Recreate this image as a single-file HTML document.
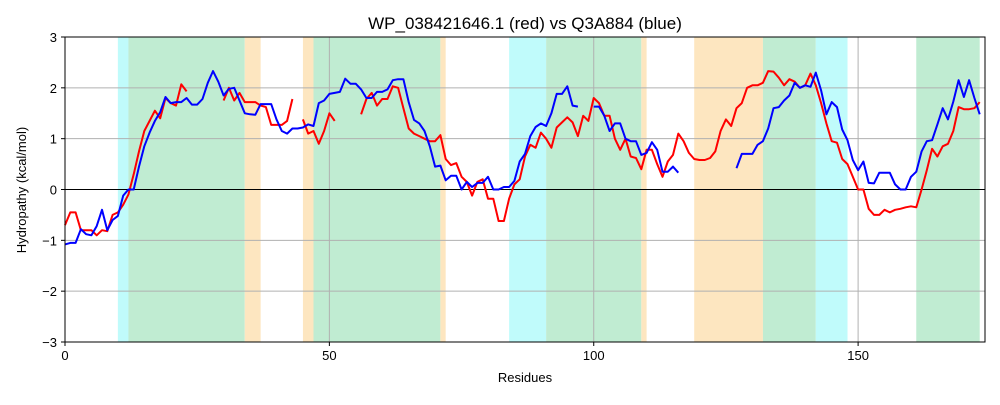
<!DOCTYPE html>
<html><head><meta charset="utf-8"><style>
body{margin:0;background:#fff;font-family:"Liberation Sans",sans-serif}
svg text{font-family:"Liberation Sans",sans-serif}
</style></head><body>
<svg id="chart" width="1000" height="400" xmlns="http://www.w3.org/2000/svg">
<text x="525" y="29" text-anchor="middle" font-size="17">WP_038421646.1 (red) vs Q3A884 (blue)</text>
<text x="525" y="382" text-anchor="middle" font-size="13">Residues</text>
<text transform="translate(26,190) rotate(-90)" text-anchor="middle" font-size="13">Hydropathy (kcal/mol)</text>
<g id="regions"></g><g id="grid"></g><g id="lines"></g><g id="axes"></g>
</svg>
<script>
const regionStarts=[10,12,34,45,47,71,84,91,109,119,132,142,161];
const regionEnds=[12,34,37,47,71,72,91,109,110,132,142,148,173];
const regionKinds=['cyan','green','orange','orange','green','orange','cyan','green','orange','orange','green','cyan','green'];
const xTicks=[0,50,100,150];
const yTicks=[-3,-2,-1,0,1,2,3];
const N=null;
const redValues=[-0.7,-0.45,-0.45,-0.8,-0.8,-0.8,-0.9,-0.8,-0.82,-0.5,-0.45,-0.3,-0.1,0.3,0.75,1.15,1.35,1.55,1.4,1.8,1.7,1.65,2.07,1.93,N,N,N,N,N,N,1.75,2.0,1.75,1.9,1.72,1.72,1.72,1.65,1.62,1.27,1.27,1.27,1.35,1.78,N,1.38,1.1,1.15,0.9,1.15,1.5,1.35,N,N,N,N,1.48,1.78,1.9,1.65,1.78,1.78,2.03,2.0,1.6,1.2,1.1,1.05,1.0,0.95,0.95,1.07,0.6,0.48,0.52,0.25,0.15,-0.12,0.15,0.2,-0.18,-0.18,-0.62,-0.62,-0.18,0.1,0.2,0.65,0.88,0.82,1.12,1.0,0.82,1.22,1.32,1.42,1.32,1.05,1.45,1.35,1.8,1.7,1.45,1.45,1.0,0.78,1.0,0.65,0.62,0.4,0.78,0.78,0.5,0.25,0.55,0.68,1.1,0.95,0.72,0.6,0.58,0.58,0.62,0.75,1.15,1.38,1.25,1.6,1.7,2.0,2.05,2.05,2.1,2.33,2.32,2.2,2.05,2.17,2.12,2.0,2.05,2.28,2.05,1.7,1.3,0.95,0.92,0.6,0.5,0.25,0.0,0.0,-0.38,-0.5,-0.5,-0.4,-0.45,-0.4,-0.38,-0.35,-0.33,-0.35,0.0,0.38,0.8,0.65,0.85,0.9,1.15,1.62,1.58,1.58,1.6,1.72];
const blueValues=[-1.08,-1.05,-1.05,-0.78,-0.88,-0.9,-0.72,-0.4,-0.8,-0.6,-0.52,-0.12,0.0,0.0,0.45,0.85,1.12,1.35,1.52,1.82,1.7,1.72,1.72,1.8,1.67,1.67,1.78,2.1,2.33,2.12,1.85,1.98,2.0,1.75,1.5,1.48,1.47,1.68,1.68,1.68,1.38,1.15,1.1,1.2,1.2,1.22,1.28,1.25,1.7,1.75,1.88,1.9,1.92,2.18,2.08,2.08,1.97,1.8,1.8,1.92,1.92,1.97,2.15,2.17,2.17,1.72,1.37,1.3,1.15,0.85,0.45,0.47,0.18,0.27,0.27,0.0,0.15,0.05,0.13,0.13,0.25,0.0,0.0,0.05,0.05,0.17,0.55,0.7,1.05,1.23,1.3,1.25,1.5,1.88,1.88,2.03,1.65,1.63,N,N,1.63,1.63,1.45,1.15,1.3,1.3,1.0,0.95,0.95,0.68,0.72,0.93,0.78,0.35,0.35,0.45,0.33,N,N,N,N,N,N,N,N,N,N,0.42,0.7,0.7,0.7,0.88,0.95,1.2,1.6,1.62,1.75,1.85,2.1,2.0,2.05,2.02,2.3,1.95,1.48,1.72,1.62,1.18,0.97,0.58,0.38,0.55,0.13,0.12,0.33,0.33,0.33,0.1,0.0,0.0,0.25,0.35,0.75,0.95,0.97,1.28,1.6,1.38,1.73,2.15,1.82,2.15,1.8,1.48];

const L=65,R=985,T=37,B=342,XMAX=174;
const xs=v=>L+v/XMAX*(R-L);
const ys=v=>T+(3-v)/6*(B-T);
const NS='http://www.w3.org/2000/svg';
function mk(tag,parent,attrs){const e=document.createElementNS(NS,tag);for(const k in attrs)e.setAttribute(k,attrs[k]);document.getElementById(parent).appendChild(e);return e;}
const colors={cyan:'#c0fbfb',green:'#c0ecd2',orange:'#fde6c0'};
regionStarts.forEach((s,i)=>{
  const r=mk('rect','regions',{x:xs(s),y:T,width:xs(regionEnds[i])-xs(s),height:B-T,fill:colors[regionKinds[i]]});
  
  
});
xTicks.forEach(t=>{
  const g=mk('line','grid',{x1:xs(t),x2:xs(t),y1:T,y2:B,stroke:'#b0b0b0','stroke-width':1});
  
  
  mk('line','axes',{x1:xs(t),x2:xs(t),y1:B,y2:B+4,stroke:'#000'});
  const tx=mk('text','axes',{x:xs(t),y:B+18,'text-anchor':'middle','font-size':13});
  tx.textContent=t;
  
  
});
yTicks.forEach(t=>{
  const g=mk('line','grid',{x1:L,x2:R,y1:ys(t),y2:ys(t),stroke:t===0?'#000':'#b0b0b0','stroke-width':1});
  
  
  mk('line','axes',{x1:L-4,x2:L,y1:ys(t),y2:ys(t),stroke:'#000'});
  const tx=mk('text','axes',{x:L-8,y:ys(t)+5,'text-anchor':'end','font-size':13});
  tx.textContent=t<0?'\u2212'+(-t):t;
  
  
});
function drawSeries(vals,color,name){
  let d='',pen=false;
  vals.forEach((v,i)=>{if(v===null){pen=false;return;}d+=(pen?'L':'M')+xs(i).toFixed(1)+' '+ys(v).toFixed(1)+' ';pen=true;});
  const p=mk('path','lines',{d:d,fill:'none',stroke:color,'stroke-width':2,'stroke-linejoin':'round'});
  
  
}
drawSeries(redValues,'#ff0000','red-series-line');
drawSeries(blueValues,'#0000ff','blue-series-line');
const fr=mk('rect','axes',{x:L,y:T,width:R-L,height:B-T,fill:'none',stroke:'#000','stroke-width':1});


</script>
</body></html>
